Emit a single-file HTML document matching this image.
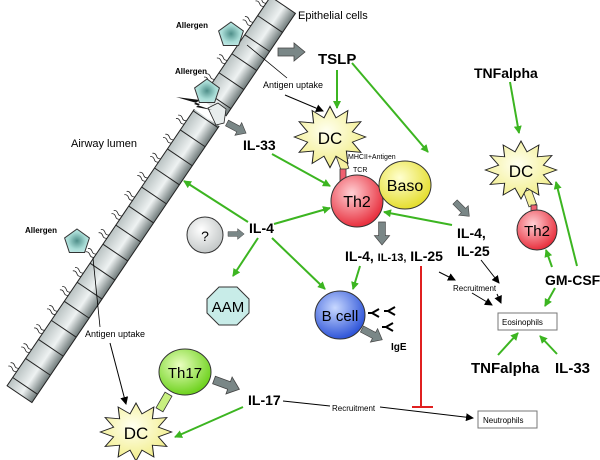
<!DOCTYPE html>
<html><head><meta charset="utf-8"><style>
body{margin:0;background:#fff}
svg{display:block;font-family:"Liberation Sans",Arial,sans-serif}
.b{font-weight:bold}
</style></head><body>
<svg width="600" height="460" viewBox="0 0 600 460" xmlns="http://www.w3.org/2000/svg">
<defs>
<linearGradient id="cell" x1="0" y1="0" x2="0" y2="1">
<stop offset="0" stop-color="#6f7a7a"/><stop offset="0.45" stop-color="#eef2f2"/><stop offset="1" stop-color="#b9c2c2"/>
</linearGradient>
<radialGradient id="yel" cx="0.45" cy="0.4" r="0.6"><stop offset="0" stop-color="#fffff0"/><stop offset="1" stop-color="#f2ee8a"/></radialGradient>
<radialGradient id="yel2" cx="0.4" cy="0.35" r="0.65"><stop offset="0" stop-color="#ffffd0"/><stop offset="1" stop-color="#e5de30"/></radialGradient>
<radialGradient id="red" cx="0.4" cy="0.35" r="0.65"><stop offset="0" stop-color="#ffd0d4"/><stop offset="1" stop-color="#e8303e"/></radialGradient>
<radialGradient id="blu" cx="0.4" cy="0.35" r="0.65"><stop offset="0" stop-color="#c8d8ff"/><stop offset="1" stop-color="#2f55d8"/></radialGradient>
<radialGradient id="grn" cx="0.4" cy="0.35" r="0.65"><stop offset="0" stop-color="#eaffc0"/><stop offset="1" stop-color="#6ed21e"/></radialGradient>
<radialGradient id="gry" cx="0.4" cy="0.35" r="0.65"><stop offset="0" stop-color="#ffffff"/><stop offset="1" stop-color="#c4c8c8"/></radialGradient>
<radialGradient id="tea" cx="0.5" cy="0.5" r="0.6"><stop offset="0" stop-color="#4f8f8a"/><stop offset="0.6" stop-color="#a8dcd6"/><stop offset="1" stop-color="#c8ecea"/></radialGradient>
<marker id="ag" markerWidth="8" markerHeight="8" refX="7" refY="4" orient="auto" markerUnits="userSpaceOnUse"><path d="M0,0 L8,4 L0,8 z" fill="#3cb521"/></marker>
<marker id="ak" markerWidth="8" markerHeight="8" refX="7" refY="4" orient="auto" markerUnits="userSpaceOnUse"><path d="M0,0 L8,4 L0,8 z" fill="#000"/></marker>
<polygon id="star" points="34,0 21.3,5.7 29.4,17 15.6,15.6 17,29.4 5.7,21.3 0,34 -5.7,21.3 -17,29.4 -15.6,15.6 -29.4,17 -21.3,5.7 -34,0 -21.3,-5.7 -29.4,-17 -15.6,-15.6 -17,-29.4 -5.7,-21.3 0,-34 5.7,-21.3 17,-29.4 15.6,-15.6 29.4,-17 21.3,-5.7" fill="url(#yel)" stroke="#222" stroke-width="1"/>
<g id="pent"><polygon points="0,-13 12.4,-4 7.6,10.5 -7.6,10.5 -12.4,-4" fill="url(#tea)" stroke="#333" stroke-width="1"/></g>
<path id="gar" d="M0,-4 L16,-4 L16,-9 L27,0 L16,9 L16,4 L0,4 z" fill="#7a8787" stroke="#444" stroke-width="0.8"/>
</defs>

<g transform="translate(283,5) rotate(124.1)">
<rect x="0" y="-15" width="470" height="30" fill="url(#cell)" stroke="#222" stroke-width="1"/>
<g stroke="#222" stroke-width="1">
<line x1="23" y1="-15" x2="23" y2="15"/><line x1="46" y1="-15" x2="46" y2="15"/><line x1="69" y1="-15" x2="69" y2="15"/><line x1="92" y1="-15" x2="92" y2="15"/><line x1="115" y1="-15" x2="115" y2="15"/><line x1="138" y1="-15" x2="138" y2="15"/><line x1="161" y1="-15" x2="161" y2="15"/><line x1="184" y1="-15" x2="184" y2="15"/><line x1="207" y1="-15" x2="207" y2="15"/><line x1="230" y1="-15" x2="230" y2="15"/><line x1="253" y1="-15" x2="253" y2="15"/><line x1="276" y1="-15" x2="276" y2="15"/><line x1="299" y1="-15" x2="299" y2="15"/><line x1="322" y1="-15" x2="322" y2="15"/><line x1="345" y1="-15" x2="345" y2="15"/><line x1="368" y1="-15" x2="368" y2="15"/><line x1="391" y1="-15" x2="391" y2="15"/><line x1="414" y1="-15" x2="414" y2="15"/><line x1="437" y1="-15" x2="437" y2="15"/><line x1="460" y1="-15" x2="460" y2="15"/>
</g>
<rect x="124" y="-17" width="12" height="34" fill="#fff"/>
<g fill="none" stroke="#222" stroke-width="0.8">
<path d="M8,15 q2,3 0,5 q-2,3 0,5 M12,15 q2,3 0,5 q-2,3 0,5 M31,15 q2,3 0,5 q-2,3 0,5 M35,15 q2,3 0,5 q-2,3 0,5 M54,15 q2,3 0,5 q-2,3 0,5 M58,15 q2,3 0,5 q-2,3 0,5 M77,15 q2,3 0,5 q-2,3 0,5 M81,15 q2,3 0,5 q-2,3 0,5 M100,15 q2,3 0,5 q-2,3 0,5 M104,15 q2,3 0,5 q-2,3 0,5 M150,15 q2,3 0,5 q-2,3 0,5 M154,15 q2,3 0,5 q-2,3 0,5 M173,15 q2,3 0,5 q-2,3 0,5 M177,15 q2,3 0,5 q-2,3 0,5 M196,15 q2,3 0,5 q-2,3 0,5 M200,15 q2,3 0,5 q-2,3 0,5 M219,15 q2,3 0,5 q-2,3 0,5 M223,15 q2,3 0,5 q-2,3 0,5 M242,15 q2,3 0,5 q-2,3 0,5 M246,15 q2,3 0,5 q-2,3 0,5 M265,15 q2,3 0,5 q-2,3 0,5 M269,15 q2,3 0,5 q-2,3 0,5 M288,15 q2,3 0,5 q-2,3 0,5 M292,15 q2,3 0,5 q-2,3 0,5 M311,15 q2,3 0,5 q-2,3 0,5 M315,15 q2,3 0,5 q-2,3 0,5 M334,15 q2,3 0,5 q-2,3 0,5 M338,15 q2,3 0,5 q-2,3 0,5 M357,15 q2,3 0,5 q-2,3 0,5 M361,15 q2,3 0,5 q-2,3 0,5 M380,15 q2,3 0,5 q-2,3 0,5 M384,15 q2,3 0,5 q-2,3 0,5 M403,15 q2,3 0,5 q-2,3 0,5 M407,15 q2,3 0,5 q-2,3 0,5 M426,15 q2,3 0,5 q-2,3 0,5 M430,15 q2,3 0,5 q-2,3 0,5 M449,15 q2,3 0,5 q-2,3 0,5 M453,15 q2,3 0,5 q-2,3 0,5"/>
</g>
</g>
<path d="M208,108 l10,-5 l8,6 l-2,14 l-8,2 z" fill="#e8eded" stroke="#222" stroke-width="0.8"/>
<path d="M176,97 L200,100 L194,104 L212,110 L196,107 L200,104 z" fill="#111"/>

<text x="298" y="19" font-size="11">Epithelial cells</text>
<text x="176" y="28" font-size="8" class="b">Allergen</text>
<use href="#pent" x="231" y="35"/>
<text x="175" y="74" font-size="8" class="b">Allergen</text>
<use href="#pent" x="207" y="92"/>
<text x="25" y="233" font-size="8" class="b">Allergen</text>
<use href="#pent" x="77" y="242"/>
<text x="71" y="147" font-size="11">Airway lumen</text>

<line x1="247" y1="45" x2="287" y2="78" stroke="#000" stroke-width="0.8"/>
<text x="263" y="88" font-size="9">Antigen uptake</text>
<line x1="285" y1="95" x2="323" y2="111" stroke="#000" stroke-width="1" marker-end="url(#ak)"/>
<line x1="93" y1="258" x2="100" y2="327" stroke="#000" stroke-width="0.8"/>
<text x="85" y="337" font-size="9">Antigen uptake</text>
<line x1="110" y1="343" x2="126" y2="404" stroke="#000" stroke-width="1" marker-end="url(#ak)"/>

<use href="#gar" transform="translate(278,52)"/>
<use href="#gar" transform="translate(227,123) rotate(28) scale(0.8)"/>
<use href="#gar" transform="translate(382,222) rotate(90) scale(0.85)"/>
<use href="#gar" transform="translate(228,234) scale(0.6)"/>
<use href="#gar" transform="translate(455,202) rotate(45) scale(0.75)"/>
<use href="#gar" transform="translate(362,329) rotate(28) scale(0.85)"/>
<use href="#gar" transform="translate(214,380) rotate(20) scale(1)"/>

<text x="318" y="64" font-size="15" class="b">TSLP</text>
<text x="243" y="150" font-size="14" class="b">IL-33</text>
<text x="249" y="233" font-size="14" class="b">IL-4</text>
<text x="345" y="261" font-size="14" class="b">IL-4, <tspan font-size="11">IL-13,</tspan> IL-25</text>
<text x="457" y="238" font-size="14" class="b">IL-4,</text>
<text x="457" y="256" font-size="14" class="b">IL-25</text>
<text x="391" y="350" font-size="10" class="b">IgE</text>
<text x="474" y="78" font-size="14" class="b">TNFalpha</text>
<text x="545" y="285" font-size="14" class="b">GM-CSF</text>
<text x="471" y="373" font-size="15" class="b">TNFalpha</text>
<text x="555" y="373" font-size="15" class="b">IL-33</text>
<text x="248" y="405" font-size="14" class="b">IL-17</text>

<g stroke="#3cb521" stroke-width="2" fill="none" marker-end="url(#ag)">
<line x1="337" y1="70" x2="337" y2="108"/>
<line x1="352" y1="63" x2="428" y2="152"/>
<line x1="272" y1="154" x2="330" y2="186"/>
<line x1="248" y1="222" x2="184" y2="181"/>
<line x1="274" y1="224" x2="330" y2="208"/>
<line x1="258" y1="238" x2="233" y2="276"/>
<line x1="272" y1="238" x2="325" y2="289"/>
<line x1="360" y1="266" x2="353" y2="289"/>
<line x1="452" y1="225" x2="384" y2="212"/>
<line x1="510" y1="82" x2="519" y2="133"/>
<line x1="552" y1="267" x2="546" y2="250"/>
<line x1="577" y1="266" x2="556" y2="182"/>
<line x1="555" y1="288" x2="545" y2="306"/>
<line x1="498" y1="355" x2="518" y2="333"/>
<line x1="557" y1="354" x2="540" y2="336"/>
<line x1="243" y1="407" x2="175" y2="437"/>
</g>
<g stroke="#000" stroke-width="1" marker-end="url(#ak)" fill="none">
<line x1="439" y1="272" x2="455" y2="280"/>
<line x1="472" y1="293" x2="492" y2="305"/>
<line x1="481" y1="260" x2="499" y2="283"/>
<line x1="497" y1="294" x2="501" y2="303"/>
<line x1="380" y1="407" x2="473" y2="418"/>
</g>
<line x1="283" y1="401" x2="330" y2="406" stroke="#000" stroke-width="1"/>
<text x="453" y="291" font-size="8">Recruitment</text>
<text x="332" y="411" font-size="8">Recruitment</text>

<line x1="421" y1="266" x2="421" y2="407" stroke="#e02020" stroke-width="2"/>
<line x1="412" y1="407" x2="433" y2="407" stroke="#e02020" stroke-width="2"/>

<rect x="498" y="313" width="59" height="17" fill="#fff" stroke="#777"/>
<text x="502" y="325" font-size="8">Eosinophils</text>
<rect x="478" y="411" width="59" height="17" fill="#fff" stroke="#777"/>
<text x="483" y="423" font-size="8">Neutrophils</text>

<g stroke="#333" stroke-width="0.8">
<rect x="338" y="152" width="8" height="18" fill="#f5f0a0" transform="rotate(-20 342 161)"/>
<rect x="340" y="169" width="6" height="12" fill="#f06070"/>
<rect x="380" y="186" width="16" height="8" fill="#f5f0a0"/>
<rect x="368" y="187" width="12" height="6" fill="#f06070"/>
<rect x="526" y="190" width="8" height="16" fill="#f5f0a0" transform="rotate(-20 530 198)"/>
<rect x="531" y="205" width="6" height="12" fill="#f06070"/>
<rect x="160" y="393" width="8" height="18" fill="#c8f080" transform="rotate(30 164 402)"/>
</g>

<use href="#star" transform="translate(330,137) scale(1.05,0.9)"/>
<text x="330" y="144" font-size="17" text-anchor="middle">DC</text>
<text x="348" y="159" font-size="7">MHCII+Antigen</text>
<text x="353" y="172" font-size="7">TCR</text>
<use href="#star" transform="translate(521,170) scale(1.05,0.85)"/>
<text x="521" y="177" font-size="17" text-anchor="middle">DC</text>
<use href="#star" transform="translate(136,432) scale(1.05,0.85)"/>
<text x="136" y="439" font-size="17" text-anchor="middle">DC</text>

<circle cx="357" cy="201" r="26" fill="url(#red)" stroke="#333"/>
<text x="357" y="207" font-size="16" text-anchor="middle">Th2</text>
<ellipse cx="405" cy="185" rx="26" ry="24" fill="url(#yel2)" stroke="#333"/>
<text x="405" y="191" font-size="16" text-anchor="middle">Baso</text>
<circle cx="537" cy="230" r="20" fill="url(#red)" stroke="#333"/>
<text x="537" y="236" font-size="15" text-anchor="middle">Th2</text>
<circle cx="205" cy="235" r="18" fill="url(#gry)" stroke="#333"/>
<text x="205" y="241" font-size="14" text-anchor="middle">?</text>
<polygon points="219,287 237,287 249,299 249,313 237,325 219,325 207,313 207,299" fill="#c8ece8" stroke="#333"/>
<text x="228" y="312" font-size="15" text-anchor="middle">AAM</text>
<ellipse cx="340" cy="315" rx="25" ry="24" fill="url(#blu)" stroke="#333"/>
<text x="340" y="321" font-size="15" text-anchor="middle">B cell</text>
<ellipse cx="185" cy="372" rx="26" ry="23" fill="url(#grn)" stroke="#333"/>
<text x="185" y="378" font-size="15" text-anchor="middle">Th17</text>

<g stroke="#000" stroke-width="2" fill="none">
<path d="M379,309 l-7,4 l7,4 M372,313 l-4,0"/>
<path d="M395,307 l-7,4 l7,4 M388,311 l-4,0"/>
<path d="M393,323 l-7,4 l7,4 M386,327 l-4,0"/>
</g>
</svg>
</body></html>
